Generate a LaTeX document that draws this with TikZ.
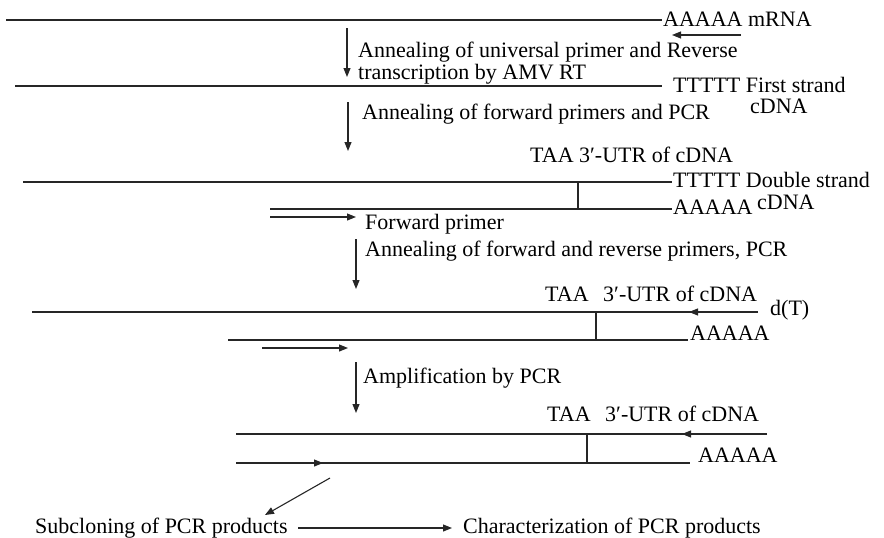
\documentclass[tikz,border=0pt]{standalone}
\usepackage{fontspec}
\setmainfont{Liberation Serif}
\usetikzlibrary{arrows.meta}
\begin{document}
\begin{tikzpicture}[x=1pt,y=-1pt,
  strand/.style={line width=1.1pt, draw=black!85},
  tip/.style={-{Triangle[length=9pt,width=7pt]}},
  txt/.style={anchor=base west, inner sep=0pt, font=\fontsize{22}{22}\selectfont},
]
\useasboundingbox (0,0) rectangle (884,538);

% ---- mRNA with oligo(dT) primer ----
\coordinate (m1) at (6,20);   \coordinate (m2) at (662,20);
\draw[strand] (m1) -- (m2);
\node[txt] (polyA) at (663,26.5) {AAAAA mRNA};
\coordinate (p1a) at (741,35); \coordinate (p1b) at (672,35);
\draw[strand,tip] (p1a) -- (p1b);

% step 1
\coordinate (s1a) at (347,28); \coordinate (s1b) at (347,77);
\draw[strand,tip] (s1a) -- (s1b);
\node[txt] (step1a) at (358,57) {Annealing of universal primer and Reverse};
\node[txt] (step1b) at (358,79) {transcription by AMV RT};

% ---- first strand cDNA ----
\coordinate (f1) at (15,86); \coordinate (f2) at (662,86);
\draw[strand] (f1) -- (f2);
\node[txt] (polyT) at (673,92) {TTTTT First strand};
\node[txt] (fsc) at (750,113) {cDNA};

% step 2
\coordinate (s2a) at (348,102); \coordinate (s2b) at (348,151);
\draw[strand,tip] (s2a) -- (s2b);
\node[txt] (step2) at (362,119) {Annealing of forward primers and PCR};

% ---- double strand cDNA ----
\node[txt] (utr1) at (530,162) {TAA 3′-UTR of cDNA};
\coordinate (d1) at (23,182); \coordinate (d2) at (672,182);
\draw[strand] (d1) -- (d2);
\coordinate (d3) at (270,209); \coordinate (d4) at (672,209);
\draw[strand] (d3) -- (d4);
\coordinate (t1a) at (578,182); \coordinate (t1b) at (578,209);
\draw[strand] (t1a) -- (t1b);
\node[txt] (dsT) at (673,187) {TTTTT Double strand};
\node[txt] (dsA) at (673,214) {AAAAA};
\node[txt] (dsc) at (757,209) {cDNA};
\coordinate (fp1) at (270,217); \coordinate (fp2) at (356,217);
\draw[strand,tip] (fp1) -- (fp2);
\node[txt] (fwd) at (365,229) {Forward primer};

% step 3
\coordinate (s3a) at (356,239); \coordinate (s3b) at (356,289);
\draw[strand,tip] (s3a) -- (s3b);
\node[txt] (step3) at (365,256) {Annealing of forward and reverse primers, PCR};

% ---- PCR with both primers ----
\node[txt] (taa2) at (545,301) {TAA};
\node[txt] (utr2) at (603,301) {3′-UTR of cDNA};
\coordinate (q1) at (32,312); \coordinate (q2) at (758,312);
\draw[strand] (q1) -- (q2);
\coordinate (r2a) at (758,312); \coordinate (r2b) at (689,312);
\draw[strand,tip] (r2a) -- (r2b);
\node[txt] (dT) at (770,315) {d(T)};
\coordinate (t2a) at (596,312); \coordinate (t2b) at (596,340);
\draw[strand] (t2a) -- (t2b);
\coordinate (q3) at (228,340); \coordinate (q4) at (688,340);
\draw[strand] (q3) -- (q4);
\node[txt] (qA) at (690,340) {AAAAA};
\coordinate (fp3) at (262,348); \coordinate (fp4) at (348,348);
\draw[strand,tip] (fp3) -- (fp4);

% step 4
\coordinate (s4a) at (356,362); \coordinate (s4b) at (356,413);
\draw[strand,tip] (s4a) -- (s4b);
\node[txt] (step4) at (363,383) {Amplification by PCR};

% ---- amplified product ----
\node[txt] (taa3) at (547,421) {TAA};
\node[txt] (utr3) at (605,421) {3′-UTR of cDNA};
\coordinate (a1) at (236,434); \coordinate (a2) at (767,434);
\draw[strand] (a1) -- (a2);
\coordinate (r3a) at (767,434); \coordinate (r3b) at (682,434);
\draw[strand,tip] (r3a) -- (r3b);
\coordinate (t3a) at (587,434); \coordinate (t3b) at (587,463);
\draw[strand] (t3a) -- (t3b);
\coordinate (a3) at (236,463); \coordinate (a4) at (690,463);
\draw[strand] (a3) -- (a4);
\coordinate (fp5) at (236,463); \coordinate (fp6) at (323,463);
\draw[strand,tip] (fp5) -- (fp6);
\node[txt] (aA) at (698,462) {AAAAA};

% ---- downstream steps ----
\node[txt] (sub) at (35,533) {Subcloning of PCR products};
\node[txt] (chr) at (463,533) {Characterization of PCR products};
\coordinate (g1) at (330,478); \coordinate (g2) at (265,515);
\draw[strand,tip] (g1) -- (g2);
\coordinate (h1) at (298,528); \coordinate (h2) at (452,528);
\draw[strand,tip] (h1) -- (h2);
\end{tikzpicture}
\end{document}
